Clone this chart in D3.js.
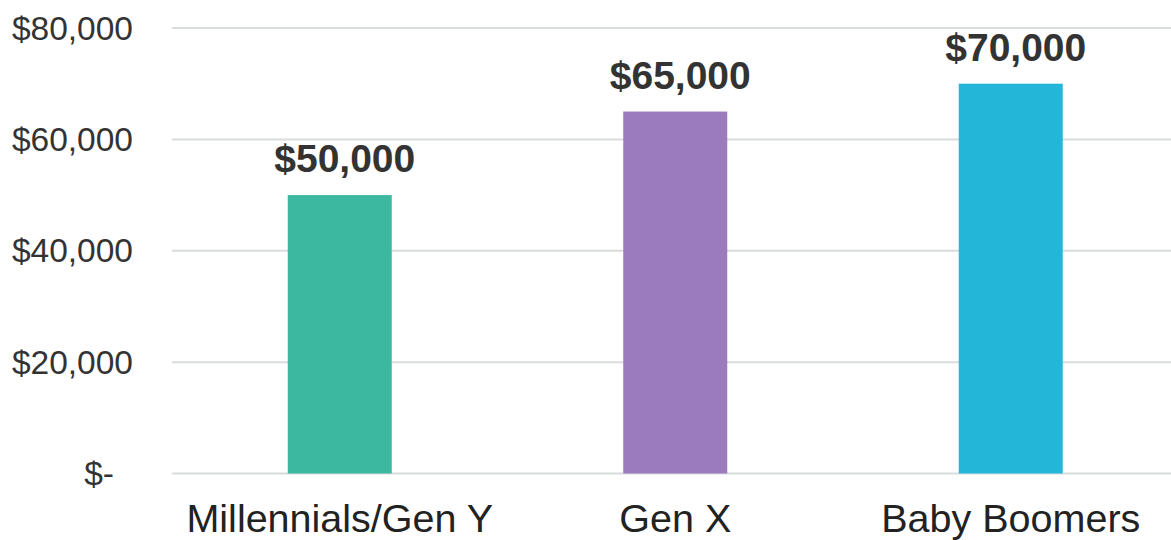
<!DOCTYPE html>
<html><head><meta charset="utf-8">
<script src="https://cdn.jsdelivr.net/npm/d3@7"></script>
<style>html,body{margin:0;padding:0;background:#fff;overflow:hidden}</style>
</head><body>
<svg id="c" width="1171" height="540"></svg>
<script>
const categories = ["Millennials/Gen Y", "Gen X", "Baby Boomers"];
const values = [50000, 65000, 70000];
const colors = ["#3db8a0", "#9b7bbd", "#24b6d8"];
const tickValues = [0, 20000, 40000, 60000, 80000];
const tickLabels = ["$-", "$20,000", "$40,000", "$60,000", "$80,000"];

const svg = d3.select("#c");
const font = "Arial, 'Liberation Sans', Helvetica, sans-serif";
const x = d3.scaleBand().domain(categories).range([172, 1178.5]).paddingInner(0.69).paddingOuter(0.345);
const y = d3.scaleLinear().domain([0, 80000]).range([473.5, 28]);

// gridlines
svg.append("g").selectAll("line").data(tickValues).join("line")
  .attr("x1", 172).attr("x2", 1171)
  .attr("y1", d => y(d)).attr("y2", d => y(d))
  .attr("stroke", "#d9dcdc").attr("stroke-width", 2);

// y axis labels
const yAxis = d3.axisLeft(y).tickValues(tickValues).tickFormat((d, i) => tickLabels[i]).tickSize(0).tickPadding(0);
const gy = svg.append("g").attr("transform", "translate(133,0)").call(yAxis);
gy.select(".domain").remove();
gy.selectAll("text").attr("font-family", font).attr("font-size", 33.5).attr("fill", "#333")
  .attr("dy", null).attr("y", 11)
  .attr("x", d => d === 0 ? -19 : 0);

// bars
svg.append("g").selectAll("rect").data(values).join("rect")
  .attr("x", (d, i) => x(categories[i]))
  .attr("width", x.bandwidth())
  .attr("y", d => y(d))
  .attr("height", d => y(0) - y(d))
  .attr("fill", (d, i) => colors[i]);

// value labels
svg.append("g").selectAll("text").data(values).join("text")
  .attr("x", (d, i) => x(categories[i]) + x.bandwidth() / 2 + 5)
  .attr("y", d => y(d) - 23)
  .attr("text-anchor", "middle")
  .attr("font-family", font).attr("font-size", 39).attr("font-weight", "bold").attr("fill", "#333")
  .text(d => "$" + d3.format(",")(d));

// x axis labels
const xAxis = d3.axisBottom(x).tickSize(0).tickPadding(0);
const gx = svg.append("g").attr("transform", "translate(0,532)").call(xAxis);
gx.select(".domain").remove();
gx.selectAll("text").attr("font-family", font).attr("font-size", 39.5).attr("fill", "#222")
  .attr("dy", null).attr("y", 0);
</script>
</body></html>
